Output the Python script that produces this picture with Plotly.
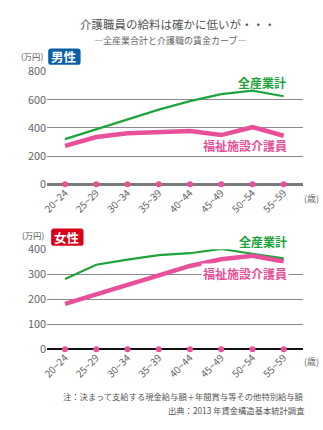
import plotly.graph_objects as go

ages = ["20~24", "25~29", "30~34", "35~39", "40~44", "45~49", "50~54", "55~59"]
male_all = [320, 390, 460, 530, 590, 640, 665, 625]
male_care = [272, 335, 362, 367, 378, 349, 405, 344]
female_all = [281, 338, 358, 376, 384, 401, 382, 363]
female_care = [181, 218, 256, 296, 333, 360, 374, 351]
zeros = [0] * len(ages)

W, H = 323, 430
GREEN = "#1fa33c"
PINK = "#e8509a"
GRAY = "#666666"
FONT = "Noto Sans CJK JP"

def px(x):
    return x / W

def py(y):
    return 1 - y / H

fig = go.Figure()

# top (male)
fig.add_trace(go.Scatter(x=ages, y=male_all, mode="lines", line=dict(color=GREEN, width=2.2),
                         xaxis="x", yaxis="y", cliponaxis=False))
fig.add_trace(go.Scatter(x=ages, y=male_care, mode="lines", line=dict(color=PINK, width=4.5),
                         xaxis="x", yaxis="y", cliponaxis=False))
fig.add_trace(go.Scatter(x=ages, y=zeros, mode="markers", marker=dict(color=PINK, size=6),
                         xaxis="x", yaxis="y", cliponaxis=False))
# bottom (female)
fig.add_trace(go.Scatter(x=ages, y=female_all, mode="lines", line=dict(color=GREEN, width=2.2),
                         xaxis="x2", yaxis="y2", cliponaxis=False))
fig.add_trace(go.Scatter(x=ages, y=female_care, mode="lines", line=dict(color=PINK, width=4.5),
                         xaxis="x2", yaxis="y2", cliponaxis=False))
fig.add_trace(go.Scatter(x=ages, y=zeros, mode="markers", marker=dict(color=PINK, size=6),
                         xaxis="x2", yaxis="y2", cliponaxis=False))

xdom = [px(42), px(303)]
xrange_ = [-0.57, 7.63]
xcommon = dict(type="category", range=xrange_, domain=xdom, showgrid=False, showline=False,
               zeroline=False, ticks="", tickangle=-45, tickfont=dict(size=10, color=GRAY, family=FONT),
               fixedrange=True)
ycommon = dict(showgrid=True, gridcolor="#8a8a8a", gridwidth=1.3, showline=False, ticks="",
               tickfont=dict(size=11, color=GRAY, family=FONT), zeroline=True, fixedrange=True)

fig.update_layout(
    width=W, height=H,
    margin=dict(l=0, r=0, t=0, b=0),
    paper_bgcolor="white", plot_bgcolor="white",
    showlegend=False,
    font=dict(family=FONT, color=GRAY),
    xaxis=dict(**xcommon, anchor="y"),
    yaxis=dict(**ycommon, domain=[py(182), py(65)], range=[0, 800], tickvals=[0, 200, 400, 600, 800],
               zerolinecolor="#7a7a7a", zerolinewidth=3, anchor="x"),
    xaxis2=dict(**xcommon, anchor="y2"),
    yaxis2=dict(**ycommon, domain=[py(353.3), py(249.5)], range=[0, 400], tickvals=[0, 100, 200, 300, 400],
                zerolinecolor="#111111", zerolinewidth=2, anchor="x2"),
)

def rounded_rect(x0, y0, x1, y1, r=3):
    X = lambda v: px(v)
    Y = lambda v: py(v)
    return ("M %f,%f L %f,%f Q %f,%f %f,%f L %f,%f Q %f,%f %f,%f L %f,%f Q %f,%f %f,%f "
            "L %f,%f Q %f,%f %f,%f Z" % (
                X(x0 + r), Y(y0), X(x1 - r), Y(y0), X(x1), Y(y0), X(x1), Y(y0 + r),
                X(x1), Y(y1 - r), X(x1), Y(y1), X(x1 - r), Y(y1),
                X(x0 + r), Y(y1), X(x0), Y(y1), X(x0), Y(y1 - r),
                X(x0), Y(y0 + r), X(x0), Y(y0), X(x0 + r), Y(y0)))

shapes = [
    dict(type="path", xref="paper", yref="paper", path=rounded_rect(43, 41, 76, 58),
         fillcolor="#0b5ea8", line=dict(width=0), layer="above"),
    dict(type="path", xref="paper", yref="paper", path=rounded_rect(46, 228, 79, 246),
         fillcolor="#d9001b", line=dict(width=0), layer="above"),
]

ann = []
def text(x, y, s, size, color, xanchor="center", bold=False, bg=None, pad=0):
    ann.append(dict(xref="paper", yref="paper", x=px(x), y=py(y), text=("<b>%s</b>" % s) if bold else s,
                    showarrow=False, xanchor=xanchor, yanchor="middle",
                    font=dict(size=size, color=color, family=FONT),
                    bgcolor=bg, borderpad=pad))

text(175, 16, "介護職員の給料は確かに低いが・・・", 11.5, "#555555")
text(167, 33, "―全産業合計と介護職の賃金カーブ―", 9, "#666666")
text(26, 48.5, "(万円)", 8.3, "#555555")
text(59.5, 49.5, "男性", 12.5, "white", bold=True)
text(28, 235, "(万円)", 8.3, "#555555")
text(62.5, 237, "女性", 12.5, "white", bold=True)
text(261, 76, "全産業計", 12, GREEN, bold=True)
text(243.5, 141.5, "福祉施設介護員", 12, PINK, bold=True)
text(262, 241.5, "全産業計", 12, GREEN, bold=True)
text(243.5, 275, "福祉施設介護員", 12, PINK, bold=True, bg="white", pad=1)
text(311, 197, "(歳)", 9, GRAY)
text(311, 366, "(歳)", 9, GRAY)
text(305, 402, "注：決まって支給する現金給与額＋年間賞与等その他特別給与額", 8.3, "#555555", xanchor="right")
text(305, 416, "出典：2013 年賃金構造基本統計調査", 8.3, "#555555", xanchor="right")
fig.update_layout(annotations=ann, shapes=shapes)

fig.write_html("out.html")
